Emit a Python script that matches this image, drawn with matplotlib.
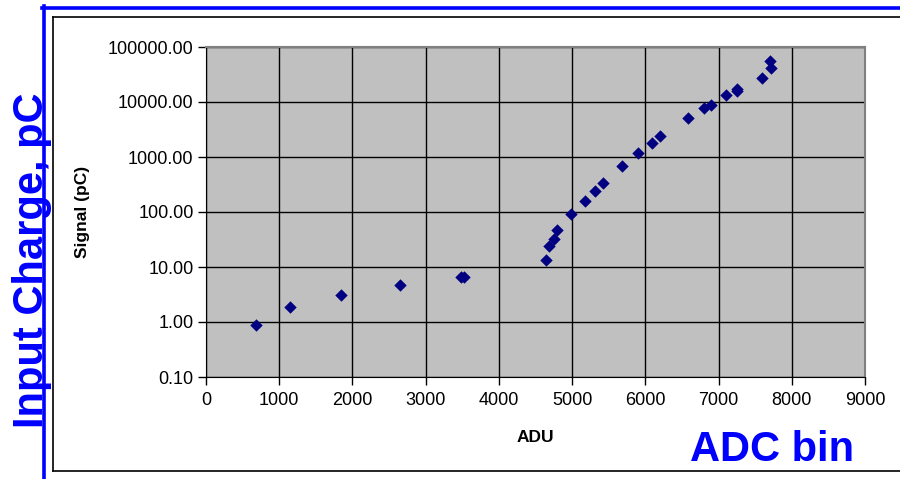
import matplotlib
matplotlib.use('Agg')
import matplotlib.pyplot as plt
from matplotlib.lines import Line2D
from matplotlib.ticker import FixedLocator, FuncFormatter

adu = [683, 1148, 1844, 2650, 3484, 3525, 4645, 4690, 4754, 4790, 4986, 5182,
       5319, 5428, 5683, 5897, 6093, 6202, 6589, 6797, 6896, 7096, 7254, 7254,
       7596, 7696, 7715]
signal = [0.88, 1.87, 3.1, 4.7, 6.6, 6.6, 13.4, 24.1, 32.7, 46.4, 93.3, 160.7,
          244, 332, 686, 1182, 1798, 2443, 5045, 7680, 8710, 13200, 17460, 15630,
          27300, 55600, 42100]

x_ticks = [0, 1000, 2000, 3000, 4000, 5000, 6000, 7000, 8000, 9000]
y_ticks = [0.1, 1, 10, 100, 1000, 10000, 100000]

plt.rcParams['font.family'] = ['Liberation Sans', 'DejaVu Sans']

W, H = 900, 479
fig = plt.figure(figsize=(9, 4.79), dpi=100)
fig.patch.set_facecolor('white')

def fx(px):
    return px / W

def fy(py):
    return 1 - py / H

# frames
fig.add_artist(Line2D([fx(53), fx(53)], [fy(16.5), fy(470.5)], color='black', lw=1.2))
fig.add_artist(Line2D([fx(53), fx(900)], [fy(16.5), fy(16.5)], color='black', lw=1.2))
fig.add_artist(Line2D([fx(53), fx(900)], [fy(470.5), fy(470.5)], color='black', lw=1.2))
fig.add_artist(Line2D([fx(43.5), fx(43.5)], [fy(6), fy(479)], color='#0000ff', lw=2.6))
fig.add_artist(Line2D([fx(42), fx(900)], [fy(7.5), fy(7.5)], color='#0000ff', lw=2.6))

ax = fig.add_axes([fx(206), fy(377), fx(865 - 206), (377 - 47) / H])
ax.set_facecolor('#c0c0c0')
ax.scatter(adu, signal, marker='D', s=40, color='#000080', zorder=3, linewidths=0)
ax.set_yscale('log')
ax.set_xlim(0, 9000)
ax.set_ylim(0.1, 100000)
ax.xaxis.set_major_locator(FixedLocator(x_ticks))
ax.yaxis.set_major_locator(FixedLocator(y_ticks))
ax.yaxis.set_minor_locator(FixedLocator([]))
ax.yaxis.set_major_formatter(FuncFormatter(lambda v, p: f'{v:.2f}'))
ax.grid(True, color='black', lw=1.0)
ax.set_axisbelow(True)
ax.tick_params(axis='both', labelsize=13, length=6, width=1, color='black')
ax.tick_params(axis='x', pad=5)
ax.tick_params(axis='y', pad=3)
for s in ['left', 'bottom']:
    ax.spines[s].set_color('black')
for s in ['top', 'right']:
    ax.spines[s].set_color('#808080')
    ax.spines[s].set_linewidth(1.5)

fig.text(fx(83), fy(212), 'Signal (pC)', rotation=90, fontsize=12.5,
         fontweight='bold', ha='center', va='center')
fig.text(fx(535), fy(438), 'ADU', fontsize=12.5, fontweight='bold',
         ha='center', va='center')
fig.text(fx(772), fy(461), 'ADC bin', fontsize=30, fontweight='bold',
         color='#0000ff', ha='center', va='baseline')
fig.text(fx(43), fy(428), 'Input Charge, pC', rotation=90, fontsize=30,
         fontweight='bold', color='#0000ff', ha='left', va='baseline',
         rotation_mode='anchor')

fig.savefig('out.png', dpi=100)
